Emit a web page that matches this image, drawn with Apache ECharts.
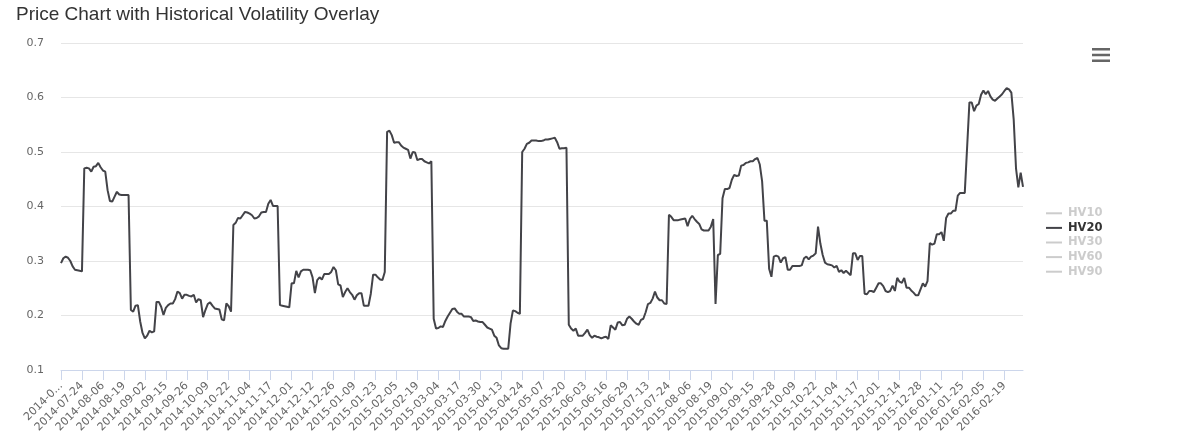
<!DOCTYPE html>
<html>
<head>
<meta charset="utf-8">
<script src="https://cdn.jsdelivr.net/npm/echarts@6/dist/echarts.min.js"></script>
<style>html,body{margin:0;padding:0;background:#fff}#c{width:1200px;height:440px}</style>
</head>
<body>
<div id="c"></div>
<script>
const titleText = 'Price Chart with Historical Volatility Overlay';
const seriesNames = ['HV10', 'HV20', 'HV30', 'HV60', 'HV90'];
const startDate = '2014-07-11';
const marketHolidays = ['2014-09-01','2014-11-27','2014-12-25','2015-01-01','2015-01-19','2015-02-16','2015-04-03','2015-05-25','2015-07-03','2015-09-07','2015-11-26','2015-12-25','2016-01-01','2016-01-18','2016-02-15'];
const yTicks = [0.1, 0.2, 0.3, 0.4, 0.5, 0.6, 0.7];
const hv10 = [];
const hv30 = [];
const hv60 = [];
const hv90 = [];
const hv20 = [
0.296,0.305,0.308,0.306,0.300,0.290,0.284,0.283,0.282,0.281,
0.470,0.471,0.470,0.464,0.473,0.474,0.480,0.472,0.466,0.464,
0.430,0.410,0.409,0.418,0.427,0.422,0.421,0.421,0.421,0.421,
0.210,0.207,0.218,0.219,0.189,0.168,0.158,0.163,0.172,0.169,
0.171,0.225,0.225,0.216,0.201,0.214,0.219,0.222,0.222,0.230,
0.244,0.241,0.231,0.238,0.238,0.236,0.235,0.238,0.224,0.230,
0.228,0.197,0.210,0.221,0.224,0.218,0.213,0.212,0.211,0.193,
0.191,0.222,0.217,0.207,0.366,0.370,0.379,0.378,0.384,0.390,
0.389,0.387,0.384,0.378,0.379,0.382,0.389,0.390,0.390,0.405,
0.412,0.401,0.401,0.401,0.219,0.218,0.217,0.216,0.215,0.259,
0.259,0.282,0.270,0.281,0.284,0.284,0.284,0.283,0.270,0.241,
0.265,0.270,0.266,0.276,0.276,0.276,0.280,0.289,0.283,0.257,
0.255,0.234,0.243,0.250,0.243,0.238,0.229,0.237,0.241,0.241,
0.218,0.218,0.218,0.240,0.275,0.275,0.270,0.266,0.265,0.280,
0.537,0.539,0.531,0.517,0.518,0.518,0.512,0.508,0.506,0.504,
0.488,0.500,0.499,0.485,0.487,0.487,0.483,0.481,0.479,0.483,
0.194,0.176,0.177,0.180,0.179,0.190,0.198,0.205,0.212,0.213,
0.207,0.203,0.203,0.198,0.198,0.198,0.197,0.190,0.191,0.189,
0.188,0.188,0.183,0.178,0.176,0.174,0.163,0.159,0.145,0.140,
0.139,0.139,0.139,0.185,0.209,0.208,0.205,0.203,0.500,0.506,
0.515,0.517,0.521,0.521,0.521,0.520,0.520,0.521,0.523,0.523,
0.524,0.525,0.526,0.518,0.506,0.507,0.507,0.508,0.183,0.176,
0.172,0.176,0.163,0.163,0.163,0.168,0.174,0.164,0.159,0.163,
0.161,0.160,0.158,0.160,0.161,0.157,0.182,0.178,0.174,0.187,
0.188,0.182,0.183,0.194,0.198,0.194,0.189,0.185,0.183,0.192,
0.194,0.206,0.221,0.223,0.231,0.244,0.233,0.228,0.228,0.222,
0.221,0.385,0.381,0.375,0.375,0.375,0.376,0.377,0.378,0.364,
0.377,0.383,0.377,0.372,0.368,0.358,0.356,0.356,0.356,0.363,
0.377,0.221,0.311,0.313,0.415,0.432,0.432,0.434,0.449,0.458,
0.456,0.457,0.475,0.476,0.480,0.481,0.483,0.483,0.487,0.489,
0.477,0.446,0.374,0.374,0.286,0.271,0.308,0.310,0.308,0.297,
0.305,0.307,0.284,0.284,0.291,0.291,0.291,0.291,0.292,0.305,
0.308,0.303,0.308,0.310,0.314,0.363,0.332,0.311,0.297,0.294,
0.293,0.292,0.288,0.291,0.280,0.283,0.278,0.282,0.278,0.274,
0.314,0.314,0.302,0.309,0.309,0.240,0.239,0.245,0.245,0.243,
0.251,0.259,0.259,0.254,0.245,0.243,0.245,0.255,0.245,0.269,
0.262,0.260,0.269,0.251,0.251,0.246,0.242,0.237,0.237,0.248,
0.259,0.253,0.263,0.333,0.330,0.332,0.349,0.349,0.353,0.337,
0.379,0.387,0.387,0.392,0.392,0.420,0.425,0.425,0.425,0.508,
0.591,0.591,0.575,0.585,0.588,0.605,0.613,0.606,0.612,0.602,
0.596,0.594,0.598,0.602,0.606,0.612,0.617,0.615,0.609,0.560,
0.470,0.435,0.462,0.436
];

// trading-day calendar (weekdays minus market holidays)
function tradingDays(start, count, holidays) {
  const out = [];
  const hol = new Set(holidays);
  const d = new Date(start + 'T00:00:00Z');
  while (out.length < count) {
    const wd = d.getUTCDay();
    const s = d.toISOString().slice(0, 10);
    if (wd !== 0 && wd !== 6 && !hol.has(s)) out.push(s);
    d.setUTCDate(d.getUTCDate() + 1);
  }
  return out;
}
const dates = tradingDays(startDate, hv20.length, marketHolidays);

const TFONT = '"Liberation Sans", Arial, Helvetica, sans-serif';
const FONT = '"DejaVu Sans", Verdana, sans-serif';
const chart = echarts.init(document.getElementById('c'), null, {renderer: 'canvas'});
const seriesData = {HV10: hv10, HV20: hv20, HV30: hv30, HV60: hv60, HV90: hv90};
const colors = ['#7cb5ec', '#434348', '#90ed7d', '#f7a35c', '#8085e9'];

chart.setOption({
  animation: false,
  color: colors,
  textStyle: {fontFamily: FONT},
  title: {
    text: titleText,
    left: 11, top: 0,
    textStyle: {fontFamily: TFONT, fontSize: 19, fontWeight: 'normal', color: '#333333'}
  },
  toolbox: {
    show: true,
    right: 75, top: 33,
    itemSize: 18,
    feature: {
      myMenu: {
        show: true,
        title: '',
        icon: 'path://M0,0H18V2.4H0Z M0,5.8H18V8.2H0Z M0,11.6H18V14H0Z',
        onclick: function () {}
      }
    },
    iconStyle: {color: '#666666', borderWidth: 0},
    emphasis: {iconStyle: {color: '#666666', borderWidth: 0, textFill: 'transparent'}}
  },
  legend: {
    orient: 'vertical',
    left: 1041, top: 201,
    itemWidth: 16, itemHeight: 2,
    itemGap: 0,
    icon: 'rect',
    data: seriesNames,
    selected: {HV10: false, HV20: true, HV30: false, HV60: false, HV90: false},
    inactiveColor: '#cccccc',
    textStyle: {fontFamily: FONT, fontSize: 11.5, fontWeight: 'bold', color: '#333333', lineHeight: 14.6, padding: [0, 0, 0, 1]}
  },
  grid: {left: 61, top: 43, width: 962, height: 327, containLabel: false},
  xAxis: {
    type: 'category',
    data: dates,
    boundaryGap: false,
    axisLine: {lineStyle: {color: '#ccd6eb', width: 1}},
    axisTick: {show: true, interval: 8, length: 10, lineStyle: {color: '#ccd6eb'}},
    axisLabel: {
      interval: 8, rotate: 45, color: '#666666', fontSize: 11, fontFamily: FONT, margin: 14,
      hideOverlap: false,
      formatter: function (v, i) { return i === 0 ? v.slice(0, 6) + '...' : v; }
    },
    splitLine: {show: false}
  },
  yAxis: {
    type: 'value',
    min: yTicks[0], max: yTicks[yTicks.length - 1], interval: 0.1,
    axisLine: {show: false},
    axisTick: {show: false},
    axisLabel: {color: '#666666', fontSize: 11, fontFamily: FONT, margin: 17,
      formatter: function (v) { return (Math.round(v * 10) / 10).toString(); }},
    splitLine: {lineStyle: {color: '#e6e6e6', width: 1}}
  },
  series: seriesNames.map(function (n) {
    return {
      name: n, type: 'line', data: seriesData[n],
      showSymbol: false, symbol: 'none',
      lineStyle: {width: 2},
      emphasis: {disabled: true}
    };
  })
});
</script>
</body>
</html>
